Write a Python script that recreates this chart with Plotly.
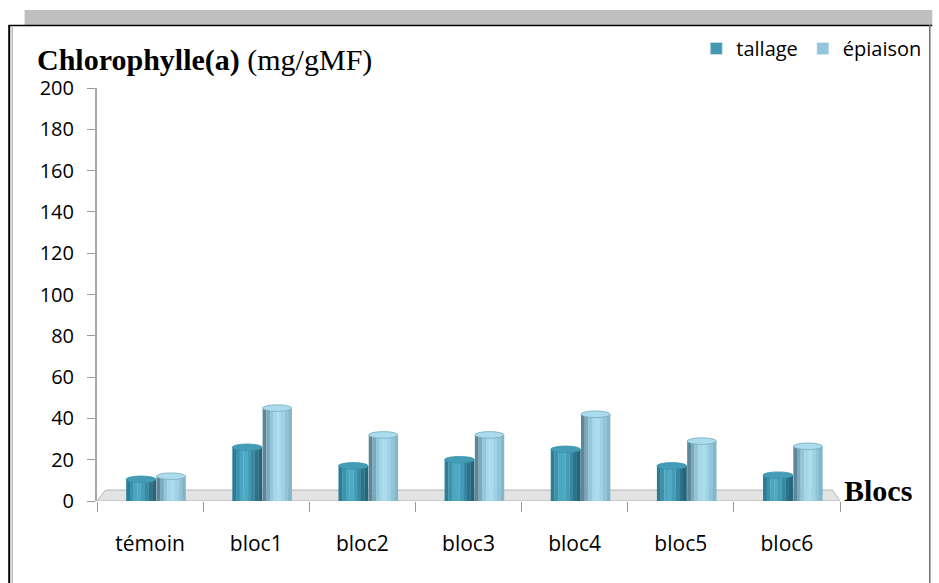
import plotly.graph_objects as go

# Chlorophylle (a) content per block, at tillering and heading stages
categories = ["témoin", "bloc1", "bloc2", "bloc3", "bloc4", "bloc5", "bloc6"]
tallage = [10.5, 26, 17, 20, 25, 17, 12.5]
epiaison = [12, 45, 32, 32, 42, 29, 26.5]
y_ticks = [0, 20, 40, 60, 80, 100, 120, 140, 160, 180, 200]

W, H = 939, 583
M = dict(l=97, r=93, t=88, b=82)
TICK_FONT = "Open Sans"


def px_x(p):
    return (p - M["l"]) / (W - M["l"] - M["r"])


def px_y(p):
    return 1 - (p - M["t"]) / (H - M["t"] - M["b"])


fig = go.Figure()

# cylinder look: each bar built from vertical strips with a shading profile
series = [
    ("tallage", tallage, -0.225, 0.28,
     ["#2a7d94", "#3a93ad", "#4aa5bf", "#4ea9c2", "#449cb6", "#3789a2", "#2a7389", "#23667a"],
     "#4399b2"),
    ("épiaison", epiaison, 0.06, 0.275,
     ["#5d8799", "#7aaabd", "#93c6d8", "#a6d7e9", "#abdcee", "#a0d2e5", "#90c5d9", "#82b7cb"],
     "#93c6d8"),
]

n_strips = 8
for name, vals, off, width, shades, legend_col in series:
    sw = width / n_strips
    for k, col in enumerate(shades):
        fig.add_trace(go.Bar(
            x=categories, y=vals, name=name,
            marker=dict(color=col, line=dict(width=0)),
            offset=off + k * sw, width=sw * 1.05,
            showlegend=False, hoverinfo="skip",
        ))
    # cap of each cylinder
    for i, v in enumerate(vals):
        fig.add_shape(type="circle", xref="x", yref="y", layer="above",
                      x0=i + off, x1=i + off + width, y0=v - 1.6, y1=v + 1.6,
                      fillcolor=shades[4], line=dict(color=shades[1], width=0.8))
    # legend entry
    fig.add_trace(go.Bar(x=[None], y=[None], name=name,
                         marker=dict(color=legend_col), showlegend=True))

# floor of the 3D chart
fig.add_shape(type="path", xref="x", yref="y", layer="below",
              path="M -0.5 0 L -0.42 5.3 L 6.43 5.3 L 6.5 0 Z",
              fillcolor="#e3e3e3", line=dict(color="#b5b5b5", width=1))
fig.add_shape(type="path", xref="x", yref="y", layer="below",
              path="M -0.5 0 L 6.5 0 L 6.5 -0.6 L -0.5 -0.6 Z",
              fillcolor="#a8a8a8", line=dict(width=0))

# outer frame and top band
fig.add_shape(type="rect", xref="paper", yref="paper", layer="below",
              x0=px_x(24), x1=px_x(939), y0=px_y(25), y1=px_y(10),
              fillcolor="#bfbfbf", line=dict(width=0))
fig.add_shape(type="line", xref="paper", yref="paper",
              x0=px_x(8), x1=px_x(939), y0=px_y(25.5), y1=px_y(25.5),
              line=dict(color="#000000", width=1.5))
fig.add_shape(type="line", xref="paper", yref="paper",
              x0=px_x(8.5), x1=px_x(8.5), y0=px_y(25), y1=px_y(583),
              line=dict(color="#000000", width=2))
fig.add_shape(type="line", xref="paper", yref="paper",
              x0=px_x(11.5), x1=px_x(11.5), y0=px_y(27), y1=px_y(583),
              line=dict(color="#9a9a9a", width=1))
fig.add_shape(type="line", xref="paper", yref="paper",
              x0=px_x(936.5), x1=px_x(936.5), y0=px_y(25), y1=px_y(583),
              line=dict(color="#6e6e6e", width=1.5))

# axis titles
fig.add_annotation(xref="paper", yref="paper", x=px_x(35), y=px_y(60),
                   xanchor="left", yanchor="middle", showarrow=False,
                   text="<b>Chlorophylle(a)</b> (mg/gMF)",
                   font=dict(family="Liberation Serif", size=30, color="#000"))
fig.add_annotation(xref="paper", yref="paper", x=px_x(848), y=px_y(490),
                   xanchor="left", yanchor="middle", showarrow=False,
                   text="<b>Blocs</b>",
                   font=dict(family="Liberation Serif", size=30, color="#000"))

fig.update_layout(
    width=W, height=H,
    margin=M,
    paper_bgcolor="white", plot_bgcolor="white",
    barmode="overlay",
    font=dict(family=TICK_FONT, size=20, color="#000"),
    legend=dict(orientation="h", x=px_x(934), y=px_y(29), xanchor="right",
                yanchor="top", font=dict(family=TICK_FONT, size=20),
                itemwidth=30, bgcolor="rgba(0,0,0,0)", traceorder="normal"),
    xaxis=dict(type="category", categoryorder="array", categoryarray=categories,
               range=[-0.5, 6.5], tickson="boundaries", ticks="outside",
               ticklen=10, tickcolor="#9a9a9a", showline=False,
               showgrid=False, ticklabelstandoff=28, zeroline=False,
               tickfont=dict(size=21)),
    yaxis=dict(range=[0, 200], tickvals=y_ticks, ticks="outside", ticklen=8,
               tickcolor="#9a9a9a", showline=True, linecolor="#a8a8a8",
               linewidth=2, showgrid=False, zeroline=False,
               ticklabelstandoff=9),
)

fig.write_html("out.html")
